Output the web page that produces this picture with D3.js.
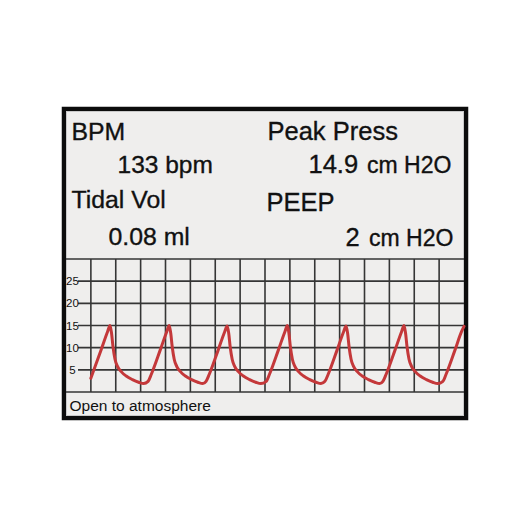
<!DOCTYPE html>
<html>
<head>
<meta charset="utf-8">
<script src="https://cdn.jsdelivr.net/npm/d3@7"></script>
<style>
  html, body { margin: 0; padding: 0; background: #ffffff; }
  svg { display: block; }
  text { font-family: "Liberation Sans", Arial, Helvetica, sans-serif; fill: #111; }
  .big { stroke: #111; stroke-width: 0.35px; }
</style>
</head>
<body>
<svg id="chart" width="530" height="530"></svg>
<script>
// ---------- data ----------
const readoutLabels = ["BPM", "Tidal Vol", "Peak Press", "PEEP"];
const readoutValues = ["133", "0.08", "14.9", "2"];
const readoutUnits  = ["bpm", "ml", "cm H2O", "cm H2O"];
const statusText = "Open to atmosphere";
const yTicks = [5, 10, 15, 20, 25];
const yDomain = [0, 30];
const xDomain = [0, 16];           // grid divisions
const xGrid = [1,2,3,4,5,6,7,8,9,10,11,12,13,14,15];
// airway pressure trace (x in grid divisions, pressure in cm H2O)
const traceX = [
  1.00, 1.41, 1.67, 1.77, 1.83, 1.89, 1.97, 2.07, 2.22, 2.42, 2.67, 2.92, 3.12,
  3.30, 3.43, 3.79, 4.05, 4.15, 4.21, 4.27, 4.35, 4.45, 4.60, 4.80, 5.05, 5.30, 5.50,
  5.63, 5.76, 6.12, 6.38, 6.48, 6.54, 6.60, 6.68, 6.78, 6.93, 7.13, 7.38, 7.63, 7.83,
  8.05, 8.18, 8.54, 8.80, 8.90, 8.96, 9.02, 9.10, 9.20, 9.35, 9.55, 9.80, 10.05, 10.25,
  10.41, 10.54, 10.90, 11.16, 11.26, 11.32, 11.38, 11.46, 11.56, 11.71, 11.91, 12.16, 12.41, 12.61,
  12.74, 12.87, 13.23, 13.49, 13.59, 13.65, 13.71, 13.79, 13.89, 14.04, 14.24, 14.49, 14.74, 14.94,
  15.15, 15.28, 15.64, 15.90, 16.00
];
const traceP = [
  3.1, 9.5, 13.6, 15.0, 13.3, 10.2, 7.4, 5.8, 4.6, 3.6, 2.8, 2.2, 1.9,
  2.4, 4.0, 9.5, 13.6, 15.0, 13.3, 10.2, 7.4, 5.8, 4.6, 3.6, 2.8, 2.2, 1.9,
  2.4, 4.0, 9.5, 13.6, 14.9, 13.3, 10.2, 7.4, 5.8, 4.6, 3.6, 2.8, 2.2, 1.9,
  2.4, 4.0, 9.5, 13.6, 15.0, 13.3, 10.2, 7.4, 5.8, 4.6, 3.6, 2.8, 2.2, 1.9,
  2.4, 4.0, 9.5, 13.6, 14.9, 13.3, 10.2, 7.4, 5.8, 4.6, 3.6, 2.8, 2.2, 1.9,
  2.4, 4.0, 9.5, 13.6, 15.0, 13.3, 10.2, 7.4, 5.8, 4.6, 3.6, 2.8, 2.2, 1.9,
  2.4, 4.0, 9.5, 13.6, 14.8
];

// ---------- layout ----------
const svg = d3.select("#chart");
const panel = { x0: 66, x1: 464, y0: 111, y1: 416 };
const plot = { top: 259, bottom: 392 };

// outer black frame + panel
svg.append("rect")
  .attr("x", 64).attr("y", 109).attr("width", 402).attr("height", 309)
  .attr("fill", "#efeeed").attr("stroke", "#0c0c0c").attr("stroke-width", 4.5);
svg.append("rect")
  .attr("x", panel.x0 + 0.5).attr("y", panel.y0 + 0.5)
  .attr("width", panel.x1 - panel.x0 - 1).attr("height", panel.y1 - panel.y0 - 1)
  .attr("fill", "none").attr("stroke", "#c9c9c9").attr("stroke-width", 1);

const x = d3.scaleLinear().domain(xDomain).range([panel.x0, panel.x1]);
const y = d3.scaleLinear().domain(yDomain).range([plot.bottom, plot.top]);

const gridColor = "#353535";
const grid = svg.append("g");
// vertical grid lines
grid.selectAll("line.v").data(xGrid).join("line")
  .attr("x1", d => x(d)).attr("x2", d => x(d))
  .attr("y1", y(yDomain[1])).attr("y2", y(yDomain[0]))
  .attr("stroke", gridColor).attr("stroke-width", 1.6);
// top & bottom boundaries (30 and 0)
grid.selectAll("line.hb").data(yDomain).join("line")
  .attr("x1", x(xDomain[0])).attr("x2", x(xDomain[1]))
  .attr("y1", d => y(d)).attr("y2", d => y(d))
  .attr("stroke", gridColor).attr("stroke-width", 1.7);
// labelled horizontal lines
grid.selectAll("line.h").data(yTicks).join("line")
  .attr("x1", 78).attr("x2", x(xDomain[1]))
  .attr("y1", d => y(d)).attr("y2", d => y(d))
  .attr("stroke", gridColor).attr("stroke-width", 1.6);
// y tick labels
svg.append("g").selectAll("text").data(yTicks).join("text")
  .attr("x", 72.5).attr("y", d => y(d))
  .attr("dy", "0.36em")
  .attr("text-anchor", "middle")
  .attr("font-size", 11.5)
  .text(d => d);

// trace
const pts = traceX.map((t, i) => [t, traceP[i]]);
const line = d3.line().x(d => x(d[0])).y(d => y(d[1])).curve(d3.curveMonotoneX);
svg.append("path").datum(pts)
  .attr("d", line)
  .attr("fill", "none")
  .attr("stroke", "#c4383a")
  .attr("stroke-width", 3)
  .attr("stroke-linejoin", "round")
  .attr("stroke-linecap", "round");

// readouts
const ro = svg.append("g").attr("class", "big");
// left column
ro.append("text").attr("x", 71.5).attr("y", 140).attr("font-size", 24.8).text(readoutLabels[0]);
ro.append("text").attr("x", 117.5).attr("y", 173).attr("font-size", 24.5)
  .text(readoutValues[0] + " " + readoutUnits[0]);
ro.append("text").attr("x", 71.5).attr("y", 208).attr("font-size", 24.8).text(readoutLabels[1]);
ro.append("text").attr("x", 108.5).attr("y", 245).attr("font-size", 24.8)
  .text(readoutValues[1] + " " + readoutUnits[1]);
// right column
ro.append("text").attr("x", 267.5).attr("y", 140).attr("font-size", 25.5).text(readoutLabels[2]);
ro.append("text").attr("x", 308.5).attr("y", 173).attr("font-size", 25.5).text(readoutValues[2]);
ro.append("text").attr("x", 367).attr("y", 173).attr("font-size", 23).text(readoutUnits[2]);
ro.append("text").attr("x", 266.5).attr("y", 210.5).attr("font-size", 25.5).text(readoutLabels[3]);
ro.append("text").attr("x", 345.5).attr("y", 246).attr("font-size", 25.5).text(readoutValues[3]);
ro.append("text").attr("x", 369).attr("y", 246).attr("font-size", 23).text(readoutUnits[3]);

// status line
svg.append("text").attr("x", 69.5).attr("y", 411).attr("font-size", 15.5).text(statusText);
</script>
</body>
</html>
